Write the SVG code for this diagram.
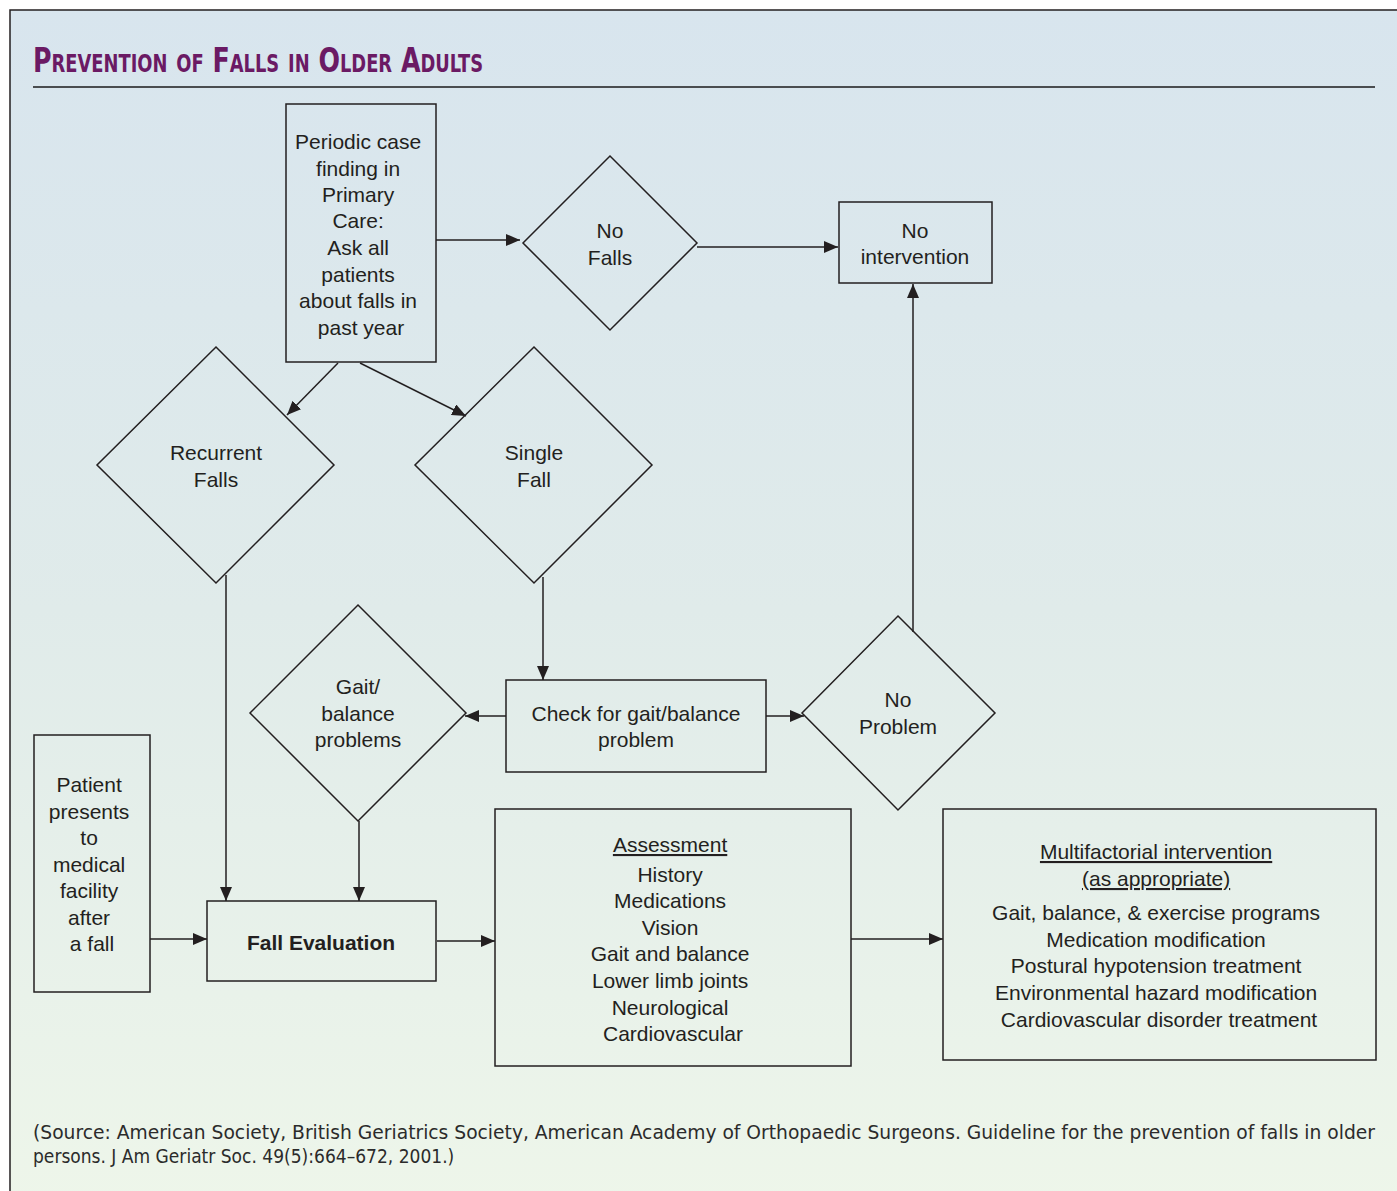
<svg xmlns="http://www.w3.org/2000/svg" width="1397" height="1191" viewBox="0 0 1397 1191">
  <defs>
    <linearGradient id="panelBg" x1="0" y1="0" x2="0" y2="1">
      <stop offset="0" stop-color="#d8e5ee"/>
      <stop offset="0.5" stop-color="#e0ebea"/>
      <stop offset="1" stop-color="#eef6ea"/>
    </linearGradient>
    <marker id="arrow" viewBox="0 0 14 12" refX="14" refY="6" markerWidth="14" markerHeight="12" markerUnits="userSpaceOnUse" orient="auto">
      <path d="M0,0 L14,6 L0,12 Z" fill="#231f20"/>
    </marker>
  </defs>
  <style>
    .shape { fill: none; stroke: #231f20; stroke-width: 1.5; }
    .edge { fill: none; stroke: #231f20; stroke-width: 1.5; marker-end: url(#arrow); }
    .label { font-family: "Liberation Sans", Arial, sans-serif; font-size: 21px; fill: #231f20; text-anchor: middle; }
    .bold { font-weight: bold; }
    .title { font-family: "Liberation Sans Narrow", "DejaVu Sans Condensed", "Liberation Sans", sans-serif; font-weight: bold; font-size: 34px; font-variant: small-caps; fill: #6b1a64; font-stretch: condensed; }
    .source { font-family: "Liberation Sans Narrow", "DejaVu Sans Condensed", "Liberation Sans", sans-serif; font-stretch: condensed; font-size: 19px; fill: #2b2b2b; }
  </style>

  <!-- page and panel -->
  <rect x="0" y="0" width="1397" height="1191" fill="#ffffff"/>
  <rect x="10" y="10" width="1400" height="1200" fill="url(#panelBg)" stroke="#231f20" stroke-width="1.5"/>

  <!-- heading -->
  <text class="title" x="33" y="72" textLength="450" lengthAdjust="spacingAndGlyphs">Prevention of Falls in Older Adults</text>
  <line x1="33" y1="87" x2="1375" y2="87" stroke="#4a4d50" stroke-width="2"/>

  <!-- connectors -->
  <g id="connectors">
    <line class="edge" x1="436" y1="240" x2="520" y2="240"/>
    <line class="edge" x1="697" y1="247" x2="838" y2="247"/>
    <line class="edge" x1="338" y1="363" x2="287" y2="415"/>
    <line class="edge" x1="360" y1="363" x2="466" y2="416"/>
    <line class="edge" x1="226" y1="575" x2="226" y2="901"/>
    <line class="edge" x1="543" y1="577" x2="543" y2="680"/>
    <line class="edge" x1="506" y1="716" x2="465" y2="716"/>
    <line class="edge" x1="766" y1="716" x2="804" y2="716"/>
    <line class="edge" x1="913" y1="632" x2="913" y2="284"/>
    <line class="edge" x1="359" y1="821" x2="359" y2="901"/>
    <line class="edge" x1="150" y1="939" x2="207" y2="939"/>
    <line class="edge" x1="437" y1="941" x2="495" y2="941"/>
    <line class="edge" x1="851" y1="939" x2="943" y2="939"/>
  </g>

  <!-- nodes -->
  <g id="case-finding">
    <rect class="shape" x="286" y="104" width="150" height="258"/>
    <text class="label">
      <tspan x="361" y="149">Periodic case</tspan>
      <tspan x="361" y="176">finding in</tspan>
      <tspan x="361" y="202">Primary</tspan>
      <tspan x="361" y="228">Care:</tspan>
      <tspan x="361" y="255">Ask all</tspan>
      <tspan x="361" y="282">patients</tspan>
      <tspan x="361" y="308">about falls in</tspan>
      <tspan x="361" y="335">past year</tspan>
    </text>
  </g>

  <g id="no-falls">
    <polygon class="shape" points="610,156 697,243 610,330 523,243"/>
    <text class="label"><tspan x="610" y="238">No</tspan><tspan x="610" y="265">Falls</tspan></text>
  </g>

  <g id="no-intervention">
    <rect class="shape" x="839" y="202" width="153" height="81"/>
    <text class="label"><tspan x="915" y="238">No</tspan><tspan x="915" y="264">intervention</tspan></text>
  </g>

  <g id="recurrent-falls">
    <polygon class="shape" points="216,347 334,465 216,583 97,465"/>
    <text class="label"><tspan x="216" y="460">Recurrent</tspan><tspan x="216" y="487">Falls</tspan></text>
  </g>

  <g id="single-fall">
    <polygon class="shape" points="534,347 652,465 534,583 415,465"/>
    <text class="label"><tspan x="534" y="460">Single</tspan><tspan x="534" y="487">Fall</tspan></text>
  </g>

  <g id="gait-problems">
    <polygon class="shape" points="358,605 466,713 358,821 250,713"/>
    <text class="label"><tspan x="358" y="694">Gait/</tspan><tspan x="358" y="721">balance</tspan><tspan x="358" y="747">problems</tspan></text>
  </g>

  <g id="check-gait">
    <rect class="shape" x="506" y="680" width="260" height="92"/>
    <text class="label"><tspan x="636" y="721">Check for gait/balance</tspan><tspan x="636" y="747">problem</tspan></text>
  </g>

  <g id="no-problem">
    <polygon class="shape" points="898,616 995,713 898,810 802,713"/>
    <text class="label"><tspan x="898" y="707">No</tspan><tspan x="898" y="734">Problem</tspan></text>
  </g>

  <g id="patient-presents">
    <rect class="shape" x="34" y="735" width="116" height="257"/>
    <text class="label">
      <tspan x="92" y="792">Patient</tspan>
      <tspan x="92" y="819">presents</tspan>
      <tspan x="92" y="845">to</tspan>
      <tspan x="92" y="872">medical</tspan>
      <tspan x="92" y="898">facility</tspan>
      <tspan x="92" y="925">after</tspan>
      <tspan x="92" y="951">a fall</tspan>
    </text>
  </g>

  <g id="fall-evaluation">
    <rect class="shape" x="207" y="901" width="229" height="80"/>
    <text class="label bold" x="321" y="950">Fall Evaluation</text>
  </g>

  <g id="assessment">
    <rect class="shape" x="495" y="809" width="356" height="257"/>
    <text class="label">
      <tspan x="673" y="852" text-decoration="underline">Assessment</tspan>
      <tspan x="673" y="882">History</tspan>
      <tspan x="673" y="908">Medications</tspan>
      <tspan x="673" y="935">Vision</tspan>
      <tspan x="673" y="961">Gait and balance</tspan>
      <tspan x="673" y="988">Lower limb joints</tspan>
      <tspan x="673" y="1015">Neurological</tspan>
      <tspan x="673" y="1041">Cardiovascular</tspan>
    </text>
  </g>

  <g id="multifactorial">
    <rect class="shape" x="943" y="809" width="433" height="251"/>
    <text class="label">
      <tspan x="1159" y="859" text-decoration="underline">Multifactorial intervention</tspan>
      <tspan x="1159" y="886" text-decoration="underline">(as appropriate)</tspan>
      <tspan x="1159" y="920">Gait, balance, &amp; exercise programs</tspan>
      <tspan x="1159" y="947">Medication modification</tspan>
      <tspan x="1159" y="973">Postural hypotension treatment</tspan>
      <tspan x="1159" y="1000">Environmental hazard modification</tspan>
      <tspan x="1159" y="1027">Cardiovascular disorder treatment</tspan>
    </text>
  </g>

  <!-- source note -->
  <text class="source" x="33" y="1139" textLength="1342" lengthAdjust="spacingAndGlyphs">(Source: American Society, British Geriatrics Society, American Academy of Orthopaedic Surgeons. Guideline for the prevention of falls in older</text>
  <text class="source" x="33" y="1163">persons. J Am Geriatr Soc. 49(5):664–672, 2001.)</text>
</svg>
